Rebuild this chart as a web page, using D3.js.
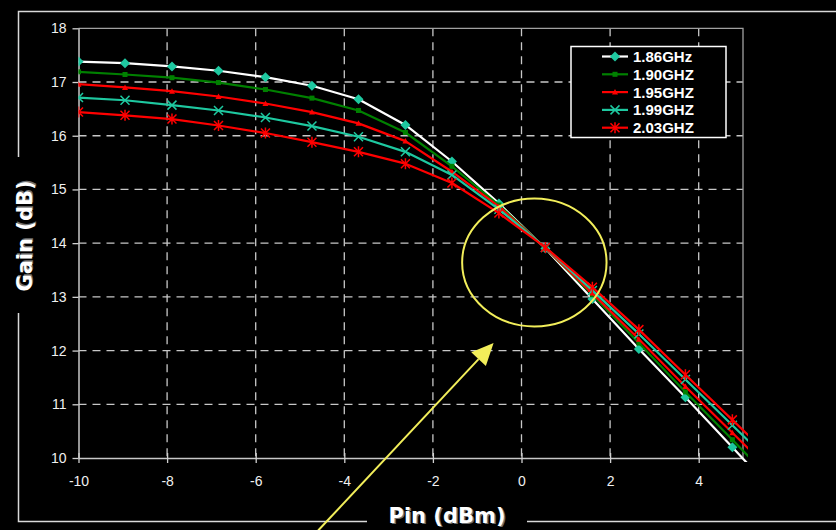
<!DOCTYPE html>
<html><head><meta charset="utf-8">
<script src="https://cdn.jsdelivr.net/npm/d3@7/dist/d3.min.js"></script>
<style>body{margin:0;background:#000;overflow:hidden}svg{display:block}</style>
</head><body>
<svg id="chart" width="836" height="530"></svg>
<script>
// ---------- data ----------
const pin = [-10, -8.95, -7.89, -6.84, -5.78, -4.73, -3.68, -2.62, -1.57, -0.51, 0.54, 1.6, 2.65, 3.7, 4.76, 5.81];
const gain186 = [17.38, 17.35, 17.29, 17.21, 17.09, 16.93, 16.68, 16.20, 15.52, 14.74, 13.90, 12.96, 12.03, 11.13, 10.20, 9.27];
const gain190 = [17.19, 17.14, 17.08, 16.99, 16.86, 16.70, 16.47, 16.06, 15.43, 14.71, 13.91, 13.04, 12.14, 11.23, 10.34, 9.45];
const gain195 = [16.96, 16.90, 16.83, 16.73, 16.60, 16.44, 16.23, 15.90, 15.33, 14.68, 13.91, 13.07, 12.21, 11.33, 10.47, 9.61];
const gain199 = [16.71, 16.66, 16.57, 16.47, 16.34, 16.18, 15.98, 15.70, 15.27, 14.63, 13.92, 13.12, 12.31, 11.46, 10.61, 9.76];
const gain203 = [16.44, 16.38, 16.31, 16.19, 16.05, 15.88, 15.70, 15.48, 15.12, 14.56, 13.92, 13.18, 12.39, 11.55, 10.71, 9.87];
const seriesNames = ["1.86GHz", "1.90GHZ", "1.95GHZ", "1.99GHZ", "2.03GHZ"];
const xTicks = [-10, -8, -6, -4, -2, 0, 2, 4];
const yTicks = [10, 11, 12, 13, 14, 15, 16, 17, 18];
const xTitle = "Pin (dBm)";
const yTitle = "Gain (dB)";
// annotation (data units): circle centre / radii, arrow tail / tip
const circleAnno = [0.29, 13.64, 1.63, 1.19];
const arrowAnno = [-4.59, 8.65, -0.63, 12.14];

// ---------- styles ----------
const styles = [
  {line: "#ffffff", marker: "diamond", mcol: "#1ec8a0"},
  {line: "#008000", marker: "square", mcol: "#008000"},
  {line: "#ff0000", marker: "triangle", mcol: "#ff0000"},
  {line: "#1ec8a0", marker: "x", mcol: "#1ec8a0"},
  {line: "#ff0000", marker: "star", mcol: "#ff0000"}
];
const allSeries = [gain186, gain190, gain195, gain199, gain203];

const svg = d3.select("#chart");
svg.append("rect").attr("width", 836).attr("height", 530).attr("fill", "#000");

const L = 78.5, R = 743, T = 28.3, B = 458;
const x = d3.scaleLinear().domain([-10, 5]).range([L, R]);
const y = d3.scaleLinear().domain([10, 18]).range([B, T]);

// outer frame (broken around axis titles)
const frame = svg.append("g").attr("stroke", "#d8d8d8").attr("stroke-width", 1.5).attr("fill", "none");
frame.append("path").attr("d", "M18.5,157 V11.5 H836");
frame.append("path").attr("d", "M18.5,313 V521.5 H367");
frame.append("path").attr("d", "M527,521.5 H836");

// grid
const grid = svg.append("g").attr("stroke", "#c8c8c8").attr("stroke-width", 1.3).attr("stroke-dasharray", "8,6");
grid.selectAll(".hg").data(yTicks.filter(v => v > 10 && v < 18)).enter().append("line")
  .attr("x1", L).attr("x2", R).attr("y1", d => y(d)).attr("y2", d => y(d));
grid.selectAll(".vg").data(xTicks.filter(v => v > -10)).enter().append("line")
  .attr("y1", T).attr("y2", B).attr("x1", d => x(d)).attr("x2", d => x(d));

// plot border top/right
svg.append("path").attr("d", `M${L},${T} H${R} V${B}`).attr("fill", "none").attr("stroke", "#a0a0a0").attr("stroke-width", 1.3);

// axes
const fmt = d => String(d);
const yAxis = d3.axisLeft(y).tickValues(yTicks).tickSize(6).tickPadding(6).tickFormat(fmt);
const xAxis = d3.axisBottom(x).tickValues(xTicks).tickSize(5).tickPadding(13).tickFormat(fmt);
const gy = svg.append("g").attr("transform", `translate(${L},0)`).call(yAxis);
const gx = svg.append("g").attr("transform", `translate(0,${B})`).call(xAxis);
[gx, gy].forEach(g => {
  g.select(".domain").attr("stroke", "#c8c8c8").attr("stroke-width", 1.5);
  g.selectAll(".tick line").attr("stroke", "#d0d0d0").attr("stroke-width", 1.3);
  g.selectAll(".tick text").attr("fill", "#f0f0f0").style("font-family", "Liberation Sans, Arial, sans-serif").style("font-size", "14px");
});
gx.selectAll(".tick line").attr("y1", -5);
gx.selectAll(".domain").attr("d", `M${L},0.5H${R}`);
gy.selectAll(".domain").attr("d", `M0.5,${B}V${T}`);

// clip
svg.append("defs").append("clipPath").attr("id", "clip").append("rect")
  .attr("x", L).attr("y", T - 6).attr("width", 748 - L).attr("height", 462 - T + 6);

// marker drawer
function drawMarker(g, type, col, cx, cy) {
  if (type === "diamond") {
    g.append("path").attr("d", `M${cx},${cy - 5}L${cx + 5},${cy}L${cx},${cy + 5}L${cx - 5},${cy}Z`).attr("fill", col);
  } else if (type === "square") {
    g.append("rect").attr("x", cx - 2.5).attr("y", cy - 2.5).attr("width", 5).attr("height", 5).attr("fill", col);
  } else if (type === "triangle") {
    g.append("path").attr("d", `M${cx},${cy - 3}L${cx + 3},${cy + 2.5}L${cx - 3},${cy + 2.5}Z`).attr("fill", col);
  } else if (type === "x") {
    g.append("path").attr("d", `M${cx - 4.5},${cy - 4.5}L${cx + 4.5},${cy + 4.5}M${cx + 4.5},${cy - 4.5}L${cx - 4.5},${cy + 4.5}`)
      .attr("stroke", col).attr("stroke-width", 1.5).attr("fill", "none");
  } else if (type === "star") {
    g.append("path").attr("d", `M${cx - 4.5},${cy - 4.5}L${cx + 4.5},${cy + 4.5}M${cx + 4.5},${cy - 4.5}L${cx - 4.5},${cy + 4.5}M${cx},${cy - 5.5}L${cx},${cy + 5.5}`)
      .attr("stroke", col).attr("stroke-width", 1.5).attr("fill", "none");
  }
}

// series
const plot = svg.append("g").attr("clip-path", "url(#clip)");
const lineGen = d3.line().x((d, i) => x(pin[i])).y(d => y(d));
allSeries.forEach((vals, si) => {
  const st = styles[si];
  const g = plot.append("g");
  g.append("path").datum(vals).attr("d", lineGen).attr("fill", "none")
    .attr("stroke", st.line).attr("stroke-width", 2.2).attr("stroke-linejoin", "round");
  vals.forEach((v, i) => {
    if (pin[i] <= 5) drawMarker(g, st.marker, st.mcol, x(pin[i]), y(v));
  });
});

// annotations
const ann = svg.append("g").attr("stroke", "#f2ee5a").attr("fill", "none").attr("stroke-width", 2);
ann.append("ellipse").attr("cx", x(circleAnno[0])).attr("cy", y(circleAnno[1]))
  .attr("rx", x(circleAnno[0] + circleAnno[2]) - x(circleAnno[0]))
  .attr("ry", y(circleAnno[1] - circleAnno[3]) - y(circleAnno[1]));
{
  const x0 = x(arrowAnno[0]), y0 = y(arrowAnno[1]), x1 = x(arrowAnno[2]), y1 = y(arrowAnno[3]);
  const ang = Math.atan2(y1 - y0, x1 - x0);
  const len = 22, hw = 10;
  const bx = x1 - len * Math.cos(ang), by = y1 - len * Math.sin(ang);
  ann.append("line").attr("x1", x0).attr("y1", y0).attr("x2", bx).attr("y2", by);
  const px = -Math.sin(ang) * hw, py = Math.cos(ang) * hw;
  svg.append("path").attr("d", `M${x1},${y1}L${bx + px},${by + py}L${bx - px},${by - py}Z`).attr("fill", "#f2ee5a");
}

// legend
const lg = svg.append("g");
lg.append("rect").attr("x", 571).attr("y", 46.5).attr("width", 155).attr("height", 91)
  .attr("fill", "#000").attr("stroke", "#ffffff").attr("stroke-width", 1.5);
seriesNames.forEach((name, i) => {
  const ry = 56.5 + i * 17.8;
  const st = styles[i];
  lg.append("line").attr("x1", 602).attr("x2", 628).attr("y1", ry).attr("y2", ry).attr("stroke", st.line).attr("stroke-width", 2.2);
  drawMarker(lg, st.marker, st.mcol, 615, ry);
  lg.append("text").attr("x", 633).attr("y", ry).attr("dy", "0.36em").text(name)
    .attr("fill", "#ffffff").style("font-family", "Liberation Sans, Arial, sans-serif").style("font-weight", "bold").style("font-size", "15px");
});

// axis titles with shadow
function title(txt, tx, ty, rot) {
  const g = svg.append("g").attr("transform", `translate(${tx},${ty}) rotate(${rot})`);
  [["#707070", 1.5, 1.5], ["#ffffff", 0, 0]].forEach(([c, dx, dy]) => {
    g.append("text").attr("x", dx).attr("y", dy).attr("text-anchor", "middle").attr("dy", "0.36em").text(txt)
      .attr("fill", c).style("font-family", "DejaVu Sans, sans-serif").style("font-weight", "bold").style("font-size", "21px");
  });
}
title(xTitle, 447, 515, 0);
title(yTitle, 24, 236, -90);
</script>
</body></html>
